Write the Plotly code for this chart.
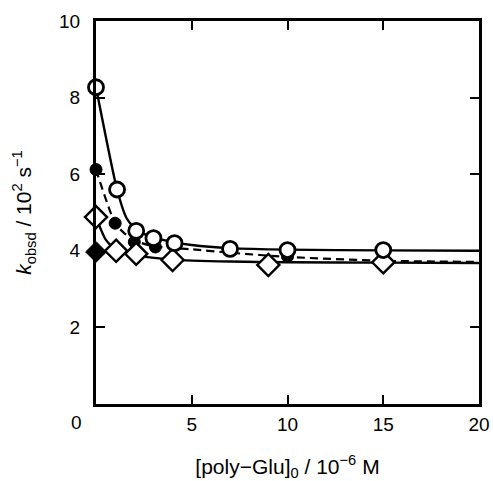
import plotly.graph_objects as go

# Measured points
x_open_circle = [0.0, 1.1, 2.1, 3.0, 4.1, 7.0, 10.0, 15.0]
y_open_circle = [8.27, 5.6, 4.52, 4.33, 4.2, 4.05, 4.02, 4.02]

x_filled_circle = [0.0, 1.0, 2.0, 3.1, 10.0]
y_filled_circle = [6.12, 4.72, 4.23, 4.1, 3.85]

x_open_diamond = [0.0, 1.05, 2.1, 4.0, 9.0, 15.0]
y_open_diamond = [4.88, 4.0, 3.92, 3.76, 3.63, 3.7]

x_filled_diamond = [0.0]
y_filled_diamond = [3.97]

# Fitted curves
x_fit_circle = [0.0, 1.1, 1.6, 2.1, 3.0, 4.1, 5.0, 7.0, 10.0, 15.0, 20.0]
y_fit_circle = [8.27, 5.6, 4.85, 4.55, 4.35, 4.22, 4.15, 4.07, 4.03, 4.01, 4.0]

x_fit_filled = [0.0, 1.0, 1.5, 2.0, 3.0, 4.0, 5.0, 7.0, 10.0, 15.0, 20.0]
y_fit_filled = [6.12, 4.72, 4.45, 4.27, 4.12, 4.07, 4.04, 3.95, 3.84, 3.74, 3.71]

x_fit_diamond = [0.0, 0.5, 1.05, 2.1, 4.0, 7.0, 10.0, 15.0, 20.0]
y_fit_diamond = [4.88, 4.3, 4.02, 3.88, 3.77, 3.72, 3.70, 3.69, 3.68]

x_ticks = [5, 10, 15, 20]
y_ticks = [2, 4, 6, 8, 10]

FONT = "Liberation Sans, Arial, Helvetica, sans-serif"

fig = go.Figure()

line_style = dict(color="black", width=2.4, shape="spline", smoothing=0.6)
fig.add_trace(go.Scatter(x=x_fit_diamond, y=y_fit_diamond, mode="lines", line=line_style, showlegend=False))
fig.add_trace(go.Scatter(x=x_fit_filled, y=y_fit_filled, mode="lines",
                         line=dict(color="black", width=2.2, dash="8px,5px", shape="spline", smoothing=0.6),
                         showlegend=False))
fig.add_trace(go.Scatter(x=x_fit_circle, y=y_fit_circle, mode="lines", line=line_style, showlegend=False))

fig.add_trace(go.Scatter(x=x_filled_circle, y=y_filled_circle, mode="markers",
                         marker=dict(symbol="circle", size=12, color="black", line=dict(color="black", width=1)),
                         showlegend=False, cliponaxis=False))
fig.add_trace(go.Scatter(x=x_filled_diamond, y=y_filled_diamond, mode="markers",
                         marker=dict(symbol="diamond", size=16, color="black", line=dict(color="black", width=1)),
                         showlegend=False, cliponaxis=False))
fig.add_trace(go.Scatter(x=x_open_diamond, y=y_open_diamond, mode="markers",
                         marker=dict(symbol="diamond", size=17, color="white", line=dict(color="black", width=2.4)),
                         showlegend=False, cliponaxis=False))
fig.add_trace(go.Scatter(x=x_open_circle, y=y_open_circle, mode="markers",
                         marker=dict(symbol="circle", size=15, color="white", line=dict(color="black", width=2.8)),
                         showlegend=False, cliponaxis=False))

axis_common = dict(showline=True, linecolor="black", linewidth=3, mirror="allticks",
                   ticks="inside", ticklen=9, tickwidth=2.2, tickcolor="black",
                   showgrid=False, zeroline=False, automargin=False,
                   tickfont=dict(family=FONT, size=19, color="black"))

fig.update_xaxes(range=[0, 20], tickvals=x_ticks, ticktext=[str(v) for v in x_ticks],
                 title=dict(text="[poly\u2212Glu]<sub>0</sub> / 10<sup>\u22126</sup> M",
                            font=dict(family=FONT, size=21, color="black"), standoff=26),
                 ticklabelstandoff=1, **axis_common)
fig.update_yaxes(range=[0, 10], tickvals=y_ticks, ticktext=[str(v) for v in y_ticks],
                 title=dict(text="<i>k</i><sub>obsd</sub> / 10<sup>2</sup> s<sup>\u22121</sup>",
                            font=dict(family=FONT, size=21, color="black"), standoff=22),
                 ticklabelstandoff=9, **axis_common)

fig.add_annotation(text="0", x=-0.05, y=-0.047, xref="paper", yref="paper",
                   showarrow=False, xanchor="center", yanchor="middle",
                   font=dict(family=FONT, size=19, color="black"))

fig.update_layout(width=493, height=481, margin=dict(l=96, r=14, t=21, b=77),
                  plot_bgcolor="white", paper_bgcolor="white")

fig.write_html("out.html")
